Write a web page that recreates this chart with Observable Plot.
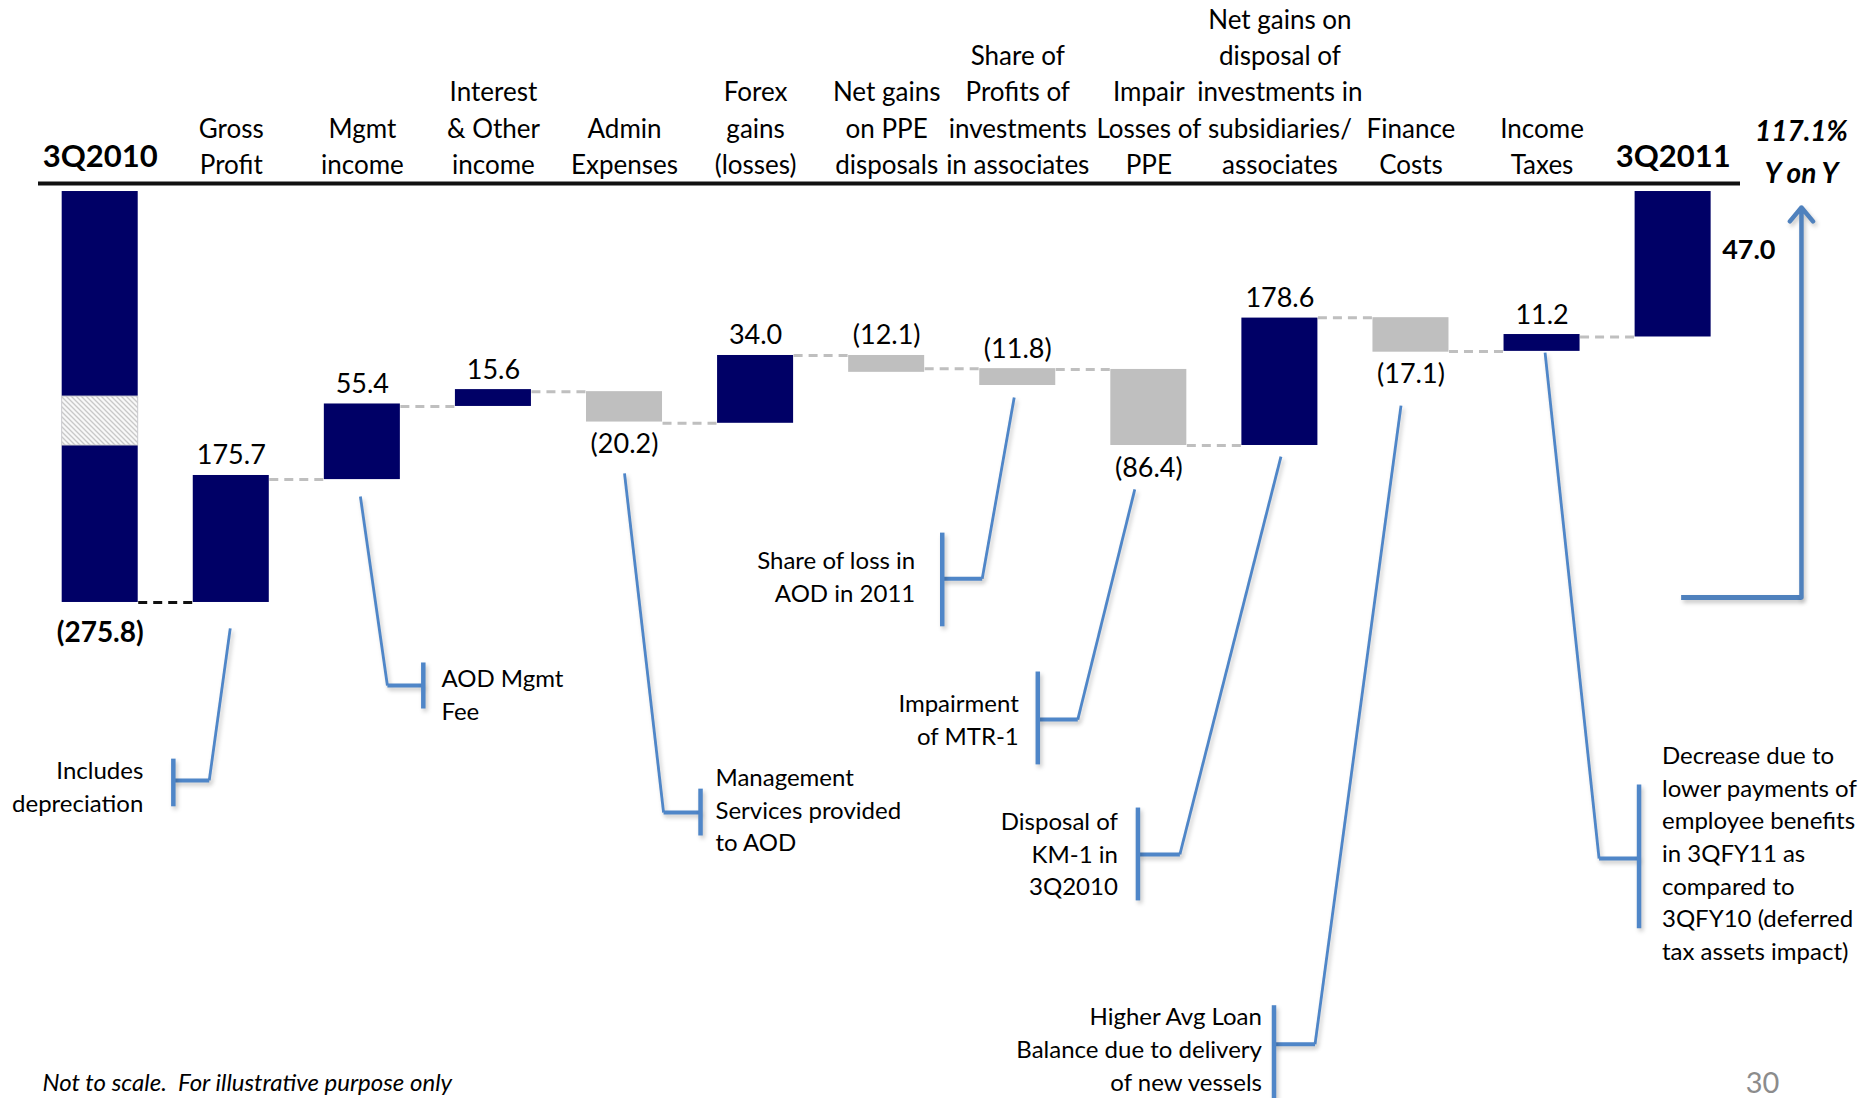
<!DOCTYPE html>
<html><head><meta charset="utf-8">
<script src="https://cdn.jsdelivr.net/npm/d3@7"></script>
<script src="https://cdn.jsdelivr.net/npm/@observablehq/plot@0.6"></script>
<style>
html,body{margin:0;padding:0;background:#fff;}
#chart{width:1872px;height:1098px;overflow:hidden;}
</style></head><body><div id="chart"></div>
<script>
// ---- data ----
const categories = ["3Q2010","Gross\nProfit","Mgmt\nincome","Interest\n& Other\nincome","Admin\nExpenses","Forex\ngains\n(losses)","Net gains\non PPE\ndisposals","Share of\nProfits of\ninvestments\nin associates","Impair\nLosses of\nPPE","Net gains on\ndisposal of\ninvestments in\nsubsidiaries/\nassociates","Finance\nCosts","Income\nTaxes","3Q2011"];
const values = [-275.8, 175.7, 55.4, 15.6, -20.2, 34.0, -12.1, -11.8, -86.4, 178.6, -17.1, 11.2, 47.0];
const valueLabels = ["(275.8)","175.7","55.4","15.6","(20.2)","34.0","(12.1)","(11.8)","(86.4)","178.6","(17.1)","11.2","47.0"];
const barKind = ["total","up","up","up","down","up","down","down","down","up","down","up","total"];
// the chart is "not to scale": bar ends on an illustrative 0–100 axis
const illustrativeHigh = [100, 30.9, 48.3, 51.8, 51.3, 60.1, 60.1, 56.9, 56.7, 69.2, 69.3, 65.2, 100];
const illustrativeLow  = [0,   0,    29.9, 47.7, 43.9, 43.6, 56.0, 52.8, 38.2, 38.2, 60.9, 61.1, 64.6];
const yoyLabel = "117.1%\nY on Y";
const noteTexts = [
  "Includes\ndepreciation",
  "AOD Mgmt\nFee",
  "Management\nServices provided\nto AOD",
  "Share of loss in\nAOD in 2011",
  "Impairment\nof MTR-1",
  "Disposal of\nKM-1 in\n3Q2010",
  "Higher Avg Loan\nBalance due to delivery\nof new vessels",
  "Decrease due to\nlower payments of\nemployee benefits\nin 3QFY11 as\ncompared to\n3QFY10 (deferred\ntax assets impact)"
];
const noteColumns = [1, 2, 4, 7, 8, 9, 10, 11];
const caption = "Not to scale.  For illustrative purpose only";
const pageNumber = "30";

// ---- layout (annotation geometry, in column units / illustrative levels) ----
const labelSide = ["below","above","above","above","below","above","above","above","below","above","below","above","right"];
const noteLayout = [
  {top:[-0.008,-6.3],  elbow:[-0.168,-43.3],  bx:-0.442, by:[-38.0,-49.6],  tx:-0.671, ty:-44.5, anchor:"end"},
  {top:[-0.015,25.8],  elbow:[0.191,-20.2],   bx:0.465,  by:[-14.6,-25.8],  tx:0.603,  ty:-22.1, anchor:"start"},
  {top:[0,31.4],       elbow:[0.298,-51.1],   bx:0.580,  by:[-45.3,-56.7],  tx:0.694,  ty:-50.1, anchor:"start"},
  {top:[-0.027,49.9],  elbow:[-0.271,5.8],    bx:-0.576, by:[17.0,-5.8],    tx:-0.782, ty:6.6,   anchor:"end"},
  {top:[-0.107,27.5],  elbow:[-0.542,-28.5],  bx:-0.847, by:[-16.8,-39.4],  tx:-0.992, ty:-28.1, anchor:"end"},
  {top:[0.008,35.5],   elbow:[-0.763,-61.3],  bx:-1.083, by:[-49.9,-72.5],  tx:-1.236, ty:-60.8, anchor:"end"},
  {top:[-0.076,47.9],  elbow:[-0.732,-107.5], bx:-1.045, by:[-98.0,-123],   tx:-1.137, ty:-108.3, anchor:"end"},
  {top:[0.023,60.8],   elbow:[0.435,-62.3],   bx:0.740,  by:[-44.3,-79.3],  tx:0.915,  ty:-60.6, anchor:"start"}
];
const HW = 0.29;            // half bar width, in columns
const breakBand = [38.2, 50.1]; // hatched axis-break on the first bar

const NAVY = "#000066", GREY = "#bfbfbf", BLUE = "#4f86c8", ARROW = "#4f81bd", HATCH_KEY = "#f2f2f3";

const data = categories.map((c, i) => ({i, label: c, value: values[i], text: valueLabels[i],
  hi: illustrativeHigh[i], lo: illustrativeLow[i], kind: barKind[i], side: labelSide[i]}));

const connectors = data.slice(1).map((d, k) => {
  const prev = data[k];
  const level = d.kind === "down" ? d.hi : d.lo;
  return {x1: prev.i + HW, x2: d.i - HW, y: level, first: k === 0};
});

const notes = noteTexts.map((t, k) => ({text: t, col: noteColumns[k], ...noteLayout[k]}));
const leaders = notes.map(n => ({x1: n.col + n.top[0], y1: n.top[1], x2: n.col + n.elbow[0], y2: n.elbow[1]}));
const ticks = notes.map(n => ({x1: n.col + n.elbow[0], y1: n.elbow[1], x2: n.col + n.bx, y2: n.elbow[1]}));
const brackets = notes.map(n => ({x1: n.col + n.bx, y1: n.by[0], x2: n.col + n.bx, y2: n.by[1]}));

const last = data[data.length - 1];
const arrowX = last.i + 0.979;
const arrowBase = 1.2, arrowTop = 96.1;

const Y_TOP = 101.95, Y_BOTTOM = -120.7;

const noteText = (anchor) => Plot.text(notes.filter(d => d.anchor === anchor), {x: d => d.col + d.tx, y: "ty", text: "text",
  textAnchor: anchor, lineAnchor: "middle", lineHeight: 1.36, fontSize: 24, fill: "#000"});

const chart = Plot.plot({
  width: 1872, height: 1098,
  marginLeft: 38, marginRight: 132, marginTop: 183, marginBottom: 0,
  style: {fontFamily: "Lato, 'Open Sans', sans-serif", background: "#fff", color: "#000", overflow: "visible"},
  x: {type: "linear", domain: [-0.4707, 12.514], axis: null},
  y: {type: "linear", domain: [Y_BOTTOM, Y_TOP], axis: null},
  marks: [
    // header rule
    Plot.ruleY([Y_TOP], {stroke: "#111", strokeWidth: 4}),
    // column headers
    Plot.text(data.filter(d => d.kind !== "total"), {x: "i", frameAnchor: "top", text: "label",
      lineAnchor: "bottom", dy: -10, lineHeight: 1.385, fontSize: 26, fill: "#000"}),
    Plot.text(data.filter(d => d.kind === "total"), {x: "i", frameAnchor: "top", text: "label",
      lineAnchor: "bottom", dy: -17, fontSize: 31, fontWeight: "bold", fill: "#000"}),
    Plot.text([yoyLabel], {x: arrowX, frameAnchor: "top", text: d => d, lineAnchor: "bottom",
      dy: -1, lineHeight: 1.5, fontSize: 28, fontWeight: "bold", fontStyle: "italic", fill: "#000"}),
    // connectors
    Plot.link(connectors, {x1: "x1", x2: "x2", y1: "y", y2: "y",
      stroke: d => d.first ? "#111" : GREY, strokeWidth: 3, strokeDasharray: "9,6"}),
    // bars
    Plot.rect(data, {x1: d => d.i - HW, x2: d => d.i + HW, y1: "lo", y2: "hi",
      fill: d => d.kind === "down" ? GREY : NAVY}),
    Plot.rect([breakBand], {x1: () => data[0].i - HW, x2: () => data[0].i + HW, y1: d => d[0], y2: d => d[1],
      fill: HATCH_KEY, stroke: "#d4d4d4", strokeWidth: 1}),
    // value labels
    Plot.text(data.filter(d => d.side === "above"), {x: "i", y: "hi", text: "text",
      lineAnchor: "bottom", dy: -11, fontSize: 27, fill: "#000"}),
    Plot.text(data.filter(d => d.side === "below" && d.kind !== "total"), {x: "i", y: "lo", text: "text",
      lineAnchor: "top", dy: 12, fontSize: 27, fill: "#000"}),
    Plot.text(data.filter(d => d.side === "below" && d.kind === "total"), {x: "i", y: "lo", text: "text",
      lineAnchor: "top", dy: 20, fontSize: 28, fontWeight: "bold", fill: "#000"}),
    Plot.text(data.filter(d => d.side === "right"), {x: d => d.i + HW, y: "hi", text: "text",
      textAnchor: "start", lineAnchor: "middle", dx: 11, dy: 59, fontSize: 27, fontWeight: "bold", fill: "#000"}),
    // annotations
    Plot.link(leaders, {x1: "x1", y1: "y1", x2: "x2", y2: "y2", stroke: BLUE, strokeWidth: 2.8}),
    Plot.link(ticks, {x1: "x1", y1: "y1", x2: "x2", y2: "y2", stroke: BLUE, strokeWidth: 4}),
    Plot.link(brackets, {x1: "x1", y1: "y1", x2: "x2", y2: "y2", stroke: BLUE, strokeWidth: 4.5}),
    noteText("start"),
    noteText("end"),
    // YoY arrow
    Plot.link([{x1: last.i + 0.061, x2: arrowX, y: arrowBase}], {x1: "x1", x2: "x2", y1: "y", y2: "y",
      stroke: ARROW, strokeWidth: 5}),
    Plot.arrow([{x: arrowX, y1: arrowBase, y2: arrowTop}], {x1: "x", x2: "x", y1: "y1", y2: "y2",
      stroke: ARROW, strokeWidth: 4.5, headLength: 6, headAngle: 80}),
    // footer
    Plot.text([caption], {frameAnchor: "bottom-left", text: d => d, textAnchor: "start", lineAnchor: "bottom",
      dx: 4, dy: -8, fontSize: 24, fontStyle: "italic", fill: "#000"}),
    Plot.text([pageNumber], {frameAnchor: "bottom-right", text: d => d, textAnchor: "middle", lineAnchor: "bottom",
      dx: 1762 - 1740, dy: -6, fontSize: 29, fill: "#8c8c8c"})
  ]
});

document.getElementById("chart").appendChild(chart);

// hatch pattern for the axis break and soft shadows on the blue annotation lines
const svgNS = "http://www.w3.org/2000/svg";
const defs = document.createElementNS(svgNS, "defs");
defs.innerHTML = `<pattern id="hatch" patternUnits="userSpaceOnUse" width="5" height="5">
  <rect width="5" height="5" fill="#f8f8f8"/>
  <path d="M-1,-1 L6,6 M-1,4 L1,6 M4,-1 L6,1" stroke="#c8c8c8" stroke-width="1.3"/></pattern>`;
chart.insertBefore(defs, chart.firstChild);
chart.querySelectorAll(`[fill="${HATCH_KEY}"]`).forEach(el => el.setAttribute("fill", "url(#hatch)"));
chart.querySelectorAll(`[stroke="${BLUE}"], [stroke="${ARROW}"]`).forEach(el => el.style.filter = "drop-shadow(2px 3px 2px rgba(0,0,0,0.22))");
</script></body></html>
